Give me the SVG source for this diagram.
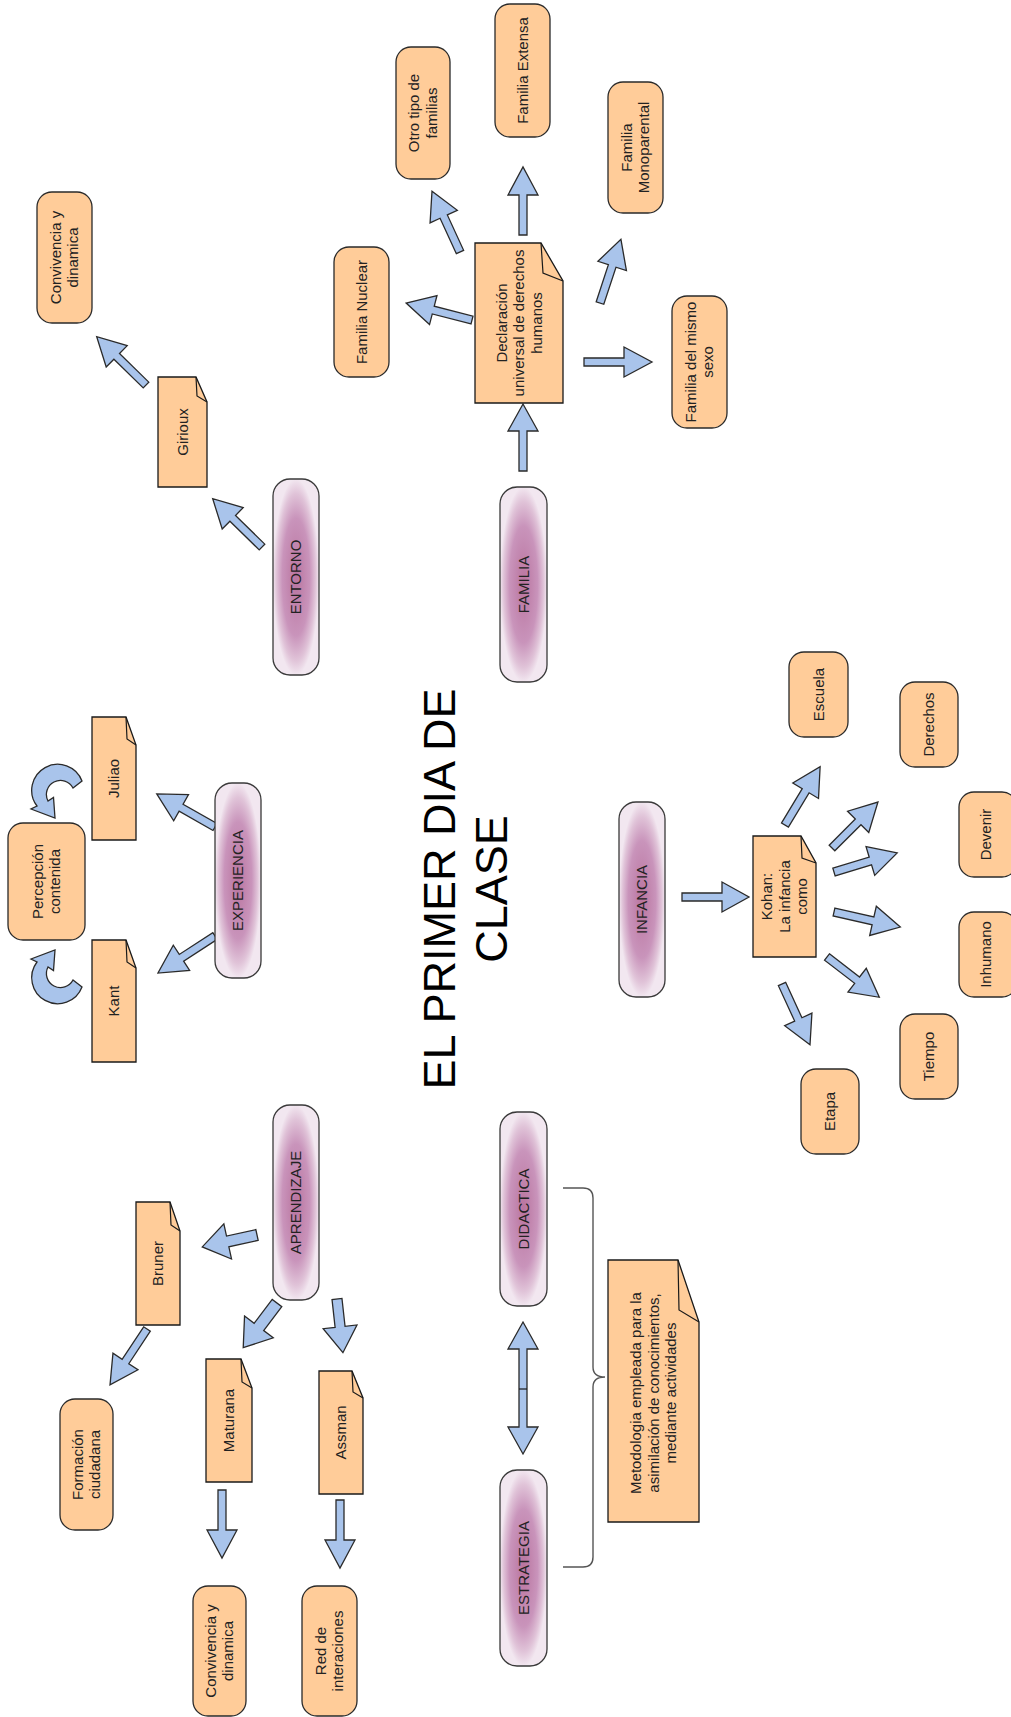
<svg xmlns="http://www.w3.org/2000/svg" width="1011" height="1717" viewBox="0 0 1011 1717">
<defs>
<radialGradient id="pg" cx="0.5" cy="0.5" r="0.5">
<stop offset="0" stop-color="#b9749f"/>
<stop offset="0.6" stop-color="#c994bb"/>
<stop offset="0.85" stop-color="#e0c3d8"/>
<stop offset="1" stop-color="#f2e7f0"/>
</radialGradient>
<style>
.rr{fill:#ffcc99;stroke:#2a2a2a;stroke-width:1.3}
.nt{fill:#ffcc99;stroke:#1a1a1a;stroke-width:1.3}
.fd{fill:none;stroke:#1a1a1a;stroke-width:1.2}
.pl{fill:url(#pg);stroke:#3a3a3a;stroke-width:1.3}
.ar{fill:#a9c4eb;stroke:#2a2a2a;stroke-width:1.3;stroke-linejoin:miter}
.br{fill:none;stroke:#555;stroke-width:1.4}
text{font-family:"Liberation Sans",Arial,sans-serif;font-size:15px;fill:#222;text-anchor:middle}
.ti{font-size:45px;fill:#000}
</style>
</defs>
<rect width="1011" height="1717" fill="#fff"/>

<g id="connectors">
<path class="ar" transform="translate(262,547) rotate(-135.6)" d="M0,-4H41V-15L69,0L41,15V4H0Z"/>
<path class="ar" transform="translate(146,385) rotate(-135.6)" d="M0,-4H41V-15L69,0L41,15V4H0Z"/>
<path class="ar" transform="translate(523,471) rotate(-90)" d="M0,-4H40V-15L67,0L40,15V4H0Z"/>
<path class="ar" transform="translate(472,320) rotate(-165.6)" d="M0,-4H40V-15L68,0L40,15V4H0Z"/>
<path class="ar" transform="translate(460,252) rotate(-114.7)" d="M0,-4H39V-15L67,0L39,15V4H0Z"/>
<path class="ar" transform="translate(523,235) rotate(-90)" d="M0,-4H40V-15L68,0L40,15V4H0Z"/>
<path class="ar" transform="translate(600,303) rotate(-71.8)" d="M0,-4H39V-15L67,0L39,15V4H0Z"/>
<path class="ar" transform="translate(584,362) rotate(0)" d="M0,-4H40V-15L68,0L40,15V4H0Z"/>
<path class="ar" transform="translate(215,827) rotate(-150.4)" d="M0,-4H39V-15L67,0L39,15V4H0Z"/>
<path class="ar" transform="translate(215,936) rotate(147)" d="M0,-4H40V-15L68,0L40,15V4H0Z"/>
<path class="ar" transform="translate(682,897) rotate(0)" d="M0,-4H40V-15L67,0L40,15V4H0Z"/>
<path class="ar" transform="translate(785,825) rotate(-58.9)" d="M0,-4H40V-15L68,0L40,15V4H0Z"/>
<path class="ar" transform="translate(832,848) rotate(-45)" d="M0,-4H37V-15L65,0L37,15V4H0Z"/>
<path class="ar" transform="translate(834,872) rotate(-16.8)" d="M0,-4H38V-15L66,0L38,15V4H0Z"/>
<path class="ar" transform="translate(834,912) rotate(12.8)" d="M0,-4H40V-15L68,0L40,15V4H0Z"/>
<path class="ar" transform="translate(827,957) rotate(37.6)" d="M0,-4H38V-15L66,0L38,15V4H0Z"/>
<path class="ar" transform="translate(782,984) rotate(65.3)" d="M0,-4H39V-15L67,0L39,15V4H0Z"/>
<path class="ar" transform="translate(257,1235) rotate(167.7)" d="M0,-5.5H30V-18L56,0L30,18V5.5H0Z"/>
<path class="ar" transform="translate(277,1303) rotate(127.1)" d="M0,-6H30V-18L56,0L30,18V6H0Z"/>
<path class="ar" transform="translate(337,1299) rotate(83.7)" d="M0,-5H28V-17L54,0L28,17V5H0Z"/>
<path class="ar" transform="translate(147,1329) rotate(123.5)" d="M0,-4H39V-15L67,0L39,15V4H0Z"/>
<path class="ar" transform="translate(222,1490) rotate(90)" d="M0,-4H40V-15L68,0L40,15V4H0Z"/>
<path class="ar" transform="translate(340,1500) rotate(90)" d="M0,-4H40V-15L68,0L40,15V4H0Z"/>
<path class="ar" d="M523,1322L538,1349H527V1427H538L523,1454L508,1427H519V1349H508Z"/>
<path class="fd" d="M519,1389H527"/>
<path class="ar" d="M82,781A26,26 0 1 0 37,806L31,809L55,818L53.5,797.5L48,801A14,14 0 1 1 73,788Z"/>
<path class="ar" d="M82,987A26,26 0 1 1 37,962L31,959L55,950L53.5,970.5L48,967A14,14 0 1 0 73,980Z"/>
<path class="br" d="M563,1188H583Q593,1188 593,1198V1367Q593,1377 605,1377Q593,1377 593,1387V1557Q593,1567 583,1567H563"/>
</g>

<g id="title">
<text class="ti" transform="translate(0,889) rotate(-90)"><tspan x="0" y="455">EL PRIMER DIA DE</tspan><tspan x="0" y="507">CLASE</tspan></text>
</g>

<g id="entorno"><rect class="pl" x="273" y="479" width="46" height="196" rx="17"/><text transform="translate(296,577) rotate(-90)" y="5">ENTORNO</text></g>
<g id="familia"><rect class="pl" x="500" y="487" width="47" height="195" rx="17"/><text transform="translate(523.5,584.5) rotate(-90)" y="5">FAMILIA</text></g>
<g id="experiencia"><rect class="pl" x="215" y="783" width="46" height="195" rx="17"/><text transform="translate(238,880.5) rotate(-90)" y="5">EXPERIENCIA</text></g>
<g id="infancia"><rect class="pl" x="619" y="802" width="46" height="195" rx="17"/><text transform="translate(642,899.5) rotate(-90)" y="5">INFANCIA</text></g>
<g id="aprendizaje"><rect class="pl" x="273" y="1105" width="46" height="195" rx="17"/><text transform="translate(296,1202.5) rotate(-90)" y="5">APRENDIZAJE</text></g>
<g id="didactica"><rect class="pl" x="500" y="1112" width="47" height="194" rx="17"/><text transform="translate(523.5,1209) rotate(-90)" y="5">DIDACTICA</text></g>
<g id="estrategia"><rect class="pl" x="500" y="1470" width="47" height="196" rx="17"/><text transform="translate(523.5,1568) rotate(-90)" y="5">ESTRATEGIA</text></g>

<g id="girioux"><path class="nt" d="M158,377H196L207,402V487H158Z"/><path class="fd" d="M196,377L197,396L207,402"/><text transform="translate(182.5,432) rotate(-90)" y="5">Girioux</text></g>
<g id="declaracion"><path class="nt" d="M475,243H541L563,281V403H475Z"/><path class="fd" d="M541,243L543,273L563,281"/><text transform="translate(519,323) rotate(-90)"><tspan x="0" y="-12.5">Declaración</tspan><tspan x="0" y="5">universal de derechos</tspan><tspan x="0" y="22.5">humanos</tspan></text></g>
<g id="juliao"><path class="nt" d="M92,717H126L136,745V840H92Z"/><path class="fd" d="M126,717L127,739L136,745"/><text transform="translate(114,778.5) rotate(-90)" y="5">Juliao</text></g>
<g id="kant"><path class="nt" d="M92,940H126L136,968V1062H92Z"/><path class="fd" d="M126,940L127,962L136,968"/><text transform="translate(114,1001) rotate(-90)" y="5">Kant</text></g>
<g id="kohan"><path class="nt" d="M753,836H801L816,863V957H753Z"/><path class="fd" d="M801,836L802,858L816,863"/><text transform="translate(784.5,896.5) rotate(-90)"><tspan x="0" y="-12.5">Kohan:</tspan><tspan x="0" y="5">La infancia</tspan><tspan x="0" y="22.5">como</tspan></text></g>
<g id="bruner"><path class="nt" d="M136,1202H170L180,1231V1325H136Z"/><path class="fd" d="M170,1202L171,1225L180,1231"/><text transform="translate(158,1263.5) rotate(-90)" y="5">Bruner</text></g>
<g id="maturana"><path class="nt" d="M206,1359H241L252,1388V1482H206Z"/><path class="fd" d="M241,1359L242,1382L252,1388"/><text transform="translate(229,1420.5) rotate(-90)" y="5">Maturana</text></g>
<g id="assman"><path class="nt" d="M319,1371H352L363,1398V1494H319Z"/><path class="fd" d="M352,1371L353,1392L363,1398"/><text transform="translate(341,1432.5) rotate(-90)" y="5">Assman</text></g>
<g id="metodologia"><path class="nt" d="M608,1260H678L699,1322V1522H608Z"/><path class="fd" d="M678,1260L679,1310L699,1322"/><text transform="translate(653.5,1393) rotate(-90)"><tspan x="0" y="-12.5">Metodologia empleada para la</tspan><tspan x="0" y="5">asimilación de conocimientos,</tspan><tspan x="0" y="22.5">mediante actividades</tspan></text></g>

<g id="convivencia1"><rect class="rr" x="37" y="192" width="55" height="131" rx="15"/><text transform="translate(64.5,257.5) rotate(-90)"><tspan x="0" y="-3.75">Convivencia y</tspan><tspan x="0" y="13.75">dinamica</tspan></text></g>
<g id="otro"><rect class="rr" x="396" y="47" width="54" height="132" rx="15"/><text transform="translate(423,113) rotate(-90)"><tspan x="0" y="-3.75">Otro tipo de</tspan><tspan x="0" y="13.75">familias</tspan></text></g>
<g id="nuclear"><rect class="rr" x="334" y="247" width="55" height="130" rx="15"/><text transform="translate(361.5,312) rotate(-90)" y="5">Familia Nuclear</text></g>
<g id="extensa"><rect class="rr" x="495" y="4" width="55" height="133" rx="15"/><text transform="translate(522.5,70.5) rotate(-90)" y="5">Familia Extensa</text></g>
<g id="monoparental"><rect class="rr" x="608" y="82" width="55" height="131" rx="15"/><text transform="translate(635.5,147.5) rotate(-90)"><tspan x="0" y="-3.75">Familia</tspan><tspan x="0" y="13.75">Monoparental</tspan></text></g>
<g id="mismosexo"><rect class="rr" x="672" y="296" width="55" height="132" rx="15"/><text transform="translate(699.5,362) rotate(-90)"><tspan x="0" y="-3.75">Familia del mismo</tspan><tspan x="0" y="13.75">sexo</tspan></text></g>
<g id="percepcion"><rect class="rr" x="8" y="823" width="77" height="117" rx="15"/><text transform="translate(46.5,881.5) rotate(-90)"><tspan x="0" y="-3.75">Percepción</tspan><tspan x="0" y="13.75">contenida</tspan></text></g>
<g id="escuela"><rect class="rr" x="789" y="652" width="59" height="85" rx="15"/><text transform="translate(818.5,694.5) rotate(-90)" y="5">Escuela</text></g>
<g id="derechos"><rect class="rr" x="900" y="682" width="58" height="85" rx="15"/><text transform="translate(929,724.5) rotate(-90)" y="5">Derechos</text></g>
<g id="devenir"><rect class="rr" x="959" y="792" width="58" height="85" rx="15"/><text transform="translate(986,834.5) rotate(-90)" y="5">Devenir</text></g>
<g id="inhumano"><rect class="rr" x="959" y="912" width="58" height="85" rx="15"/><text transform="translate(986,954.5) rotate(-90)" y="5">Inhumano</text></g>
<g id="tiempo"><rect class="rr" x="900" y="1014" width="58" height="85" rx="15"/><text transform="translate(929,1056.5) rotate(-90)" y="5">Tiempo</text></g>
<g id="etapa"><rect class="rr" x="801" y="1069" width="58" height="85" rx="15"/><text transform="translate(830,1111.5) rotate(-90)" y="5">Etapa</text></g>
<g id="formacion"><rect class="rr" x="60" y="1399" width="53" height="131" rx="15"/><text transform="translate(86.5,1464.5) rotate(-90)"><tspan x="0" y="-3.75">Formación</tspan><tspan x="0" y="13.75">ciudadana</tspan></text></g>
<g id="convivencia2"><rect class="rr" x="193" y="1586" width="53" height="130" rx="15"/><text transform="translate(219.5,1651) rotate(-90)"><tspan x="0" y="-3.75">Convivencia y</tspan><tspan x="0" y="13.75">dinamica</tspan></text></g>
<g id="red"><rect class="rr" x="302" y="1586" width="55" height="130" rx="15"/><text transform="translate(329.5,1651) rotate(-90)"><tspan x="0" y="-3.75">Red de</tspan><tspan x="0" y="13.75">interaciones</tspan></text></g>
</svg>
